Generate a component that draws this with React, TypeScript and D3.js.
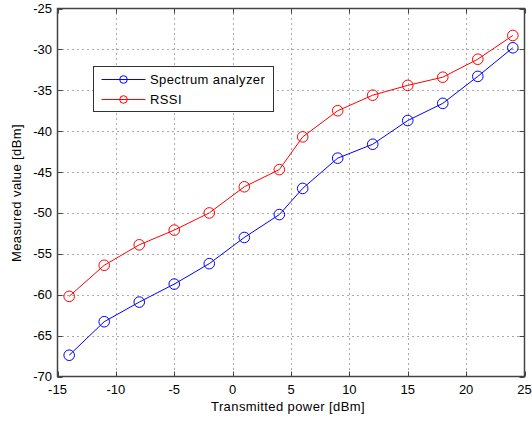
import React from "react";
import * as d3 from "d3";

const txPower = [-14, -11, -8, -5, -2, 1, 4, 6, 9, 12, 15, 18, 21, 24];
const spectrumAnalyzer = [-67.4, -63.3, -60.9, -58.7, -56.2, -53.0, -50.2, -47.0, -43.3, -41.6, -38.7, -36.6, -33.3, -29.8];
const rssi = [-60.2, -56.4, -53.9, -52.1, -50.0, -46.8, -44.7, -40.7, -37.5, -35.6, -34.4, -33.4, -31.2, -28.3];
const xTicks = [-15, -10, -5, 0, 5, 10, 15, 20, 25];
const yTicks = [-70, -65, -60, -55, -50, -45, -40, -35, -30, -25];

const series = [
  { name: "Spectrum analyzer", values: spectrumAnalyzer, color: "#0000ff" },
  { name: "RSSI", values: rssi, color: "#ff0000" },
];

const W = 532;
const H = 422;
const left = 57.5;
const right = 524.5;
const top = 8.5;
const bottom = 376.5;
const font = "'Liberation Sans', Arial, sans-serif";

export default function App() {
  const x = d3.scaleLinear().domain([-15, 25]).range([left, right]);
  const y = d3.scaleLinear().domain([-70, -25]).range([bottom, top]);
  const line = d3
    .line<number>()
    .x((_, i) => x(txPower[i]))
    .y((d) => y(d));

  return (
    <svg width={W} height={H} style={{ position: "absolute", left: 0, top: 0, background: "#fff" }}>
      <rect x={0} y={0} width={W} height={H} fill="#fff" />
      {/* grid */}
      {xTicks.slice(1, -1).map((t) => (
        <line key={"gx" + t} x1={Math.round(x(t)) + 0.5} x2={Math.round(x(t)) + 0.5} y1={top} y2={bottom}
          stroke="#555" strokeWidth={1} strokeDasharray="1,4" />
      ))}
      {yTicks.slice(1, -1).map((t) => (
        <line key={"gy" + t} x1={left} x2={right} y1={Math.round(y(t)) + 0.5} y2={Math.round(y(t)) + 0.5}
          stroke="#555" strokeWidth={1} strokeDasharray="1,4" />
      ))}
      {/* ticks, inward on all four sides */}
      {xTicks.map((t) => (
        <g key={"tx" + t} stroke="#444" strokeWidth={1}>
          <line x1={Math.round(x(t)) + 0.5} x2={Math.round(x(t)) + 0.5} y1={bottom} y2={bottom - 5} />
          <line x1={Math.round(x(t)) + 0.5} x2={Math.round(x(t)) + 0.5} y1={top} y2={top + 5} />
        </g>
      ))}
      {yTicks.map((t) => (
        <g key={"ty" + t} stroke="#444" strokeWidth={1}>
          <line x1={left} x2={left + 5} y1={Math.round(y(t)) + 0.5} y2={Math.round(y(t)) + 0.5} />
          <line x1={right} x2={right - 5} y1={Math.round(y(t)) + 0.5} y2={Math.round(y(t)) + 0.5} />
        </g>
      ))}
      <rect x={left} y={top} width={right - left} height={bottom - top} fill="none" stroke="#444" strokeWidth={1.5} />
      {/* tick labels */}
      {xTicks.map((t) => (
        <text key={"lx" + t} x={x(t)} y={394} textAnchor="middle" fontFamily={font} fontSize={13} fill="#000">
          {t}
        </text>
      ))}
      {yTicks.map((t) => (
        <text key={"ly" + t} x={52} y={y(t) + 4.5} textAnchor="end" fontFamily={font} fontSize={13} fill="#000">
          {t}
        </text>
      ))}
      {/* axis labels */}
      <text x={288} y={411} textAnchor="middle" fontFamily={font} fontSize={13} letterSpacing={0.4} fill="#000">
        Transmitted power [dBm]
      </text>
      <text transform="translate(21,193) rotate(-90)" textAnchor="middle" fontFamily={font} fontSize={13}
        letterSpacing={0.4} fill="#000">
        Measured value [dBm]
      </text>
      {/* series */}
      {series.map((s) => (
        <g key={s.name}>
          <path d={line(s.values) ?? ""} fill="none" stroke={s.color} strokeWidth={1} />
          {s.values.map((v, i) => (
            <circle key={i} cx={x(txPower[i])} cy={y(v)} r={5.3} fill="none" stroke={s.color} strokeWidth={1} />
          ))}
        </g>
      ))}
      {/* legend */}
      <g>
        <rect x={93.5} y={66.5} width={180} height={45} fill="#fff" stroke="#333" strokeWidth={1} />
        {series.map((s, i) => {
          const ly = 79.5 + i * 20;
          return (
            <g key={"lg" + s.name}>
              <line x1={101.5} x2={145.5} y1={ly} y2={ly} stroke={s.color} strokeWidth={1} />
              <circle cx={123.5} cy={ly} r={3.8} fill="none" stroke={s.color} strokeWidth={1} />
              <text x={150} y={ly + 4.5} fontFamily={font} fontSize={13} letterSpacing={0.4} fill="#000">
                {s.name}
              </text>
            </g>
          );
        })}
      </g>
    </svg>
  );
}
